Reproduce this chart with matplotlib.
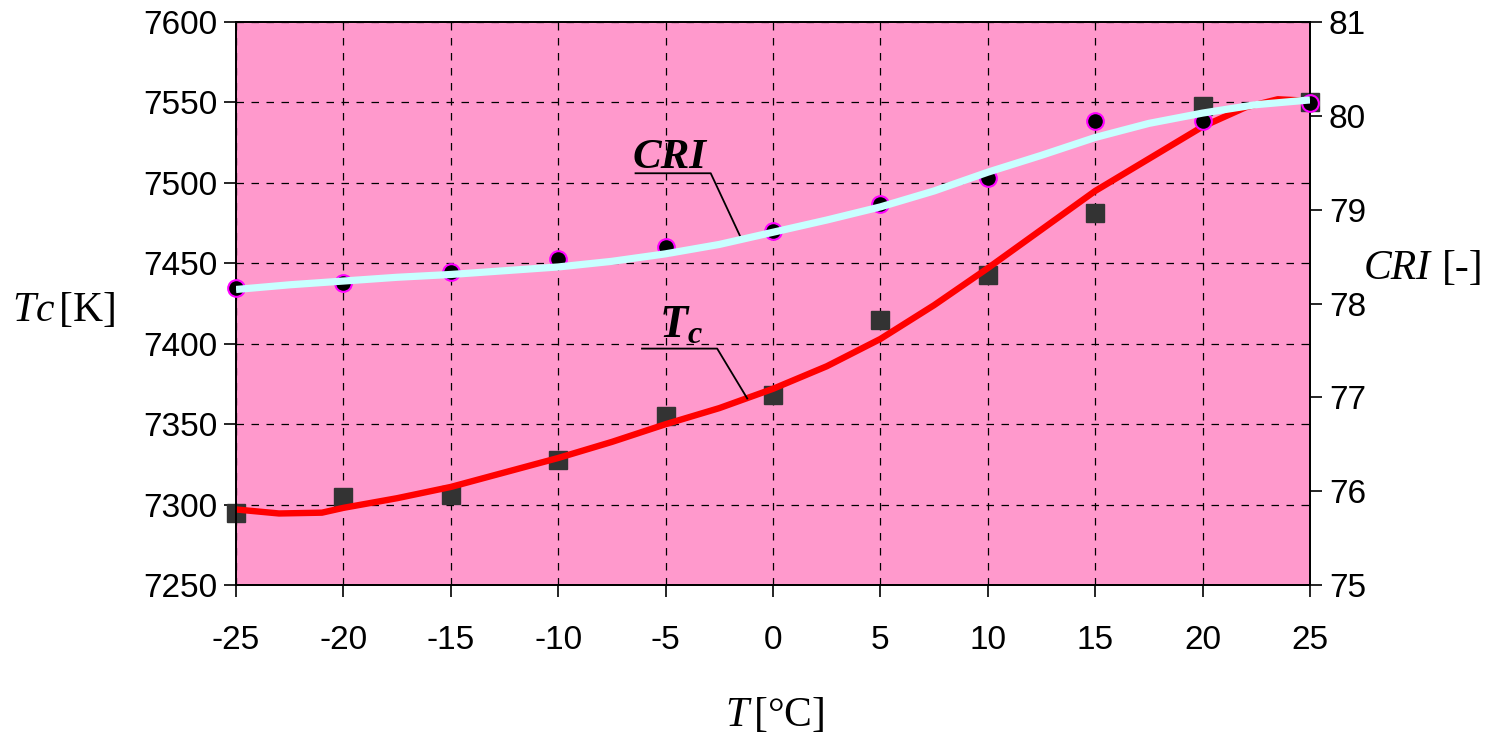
import matplotlib
matplotlib.use("Agg")
import matplotlib.pyplot as plt

# measured points
temp = [-25, -20, -15, -10, -5, 0, 5, 10, 15, 20, 25]
tc_meas = [7295, 7305, 7306, 7328, 7355, 7368, 7415, 7443, 7481, 7548, 7550]
cri_meas = [78.17, 78.22, 78.34, 78.48, 78.60, 78.77, 79.06, 79.34, 79.95, 79.95, 80.14]

# fitted curves
tc_fit_t = [-25, -23, -21, -20, -17.5, -15, -12.5, -10, -7.5, -5, -2.5, 0,
            2.5, 5, 7.5, 10, 12.5, 15, 17.5, 20, 22, 23.5, 25]
tc_fit = [7297, 7294.5, 7295, 7298, 7304, 7311, 7320, 7329, 7339, 7350, 7360, 7372,
          7386, 7403, 7424, 7447, 7471, 7495, 7515, 7535, 7547, 7552, 7551]
cri_fit_t = [-25, -22.5, -20, -17.5, -15, -12.5, -10, -7.5, -5, -2.5, 0,
             2.5, 5, 7.5, 10, 12.5, 15, 17.5, 20, 22.5, 25]
cri_fit = [78.15, 78.20, 78.24, 78.28, 78.31, 78.35, 78.39, 78.45, 78.53, 78.63, 78.76,
           78.89, 79.03, 79.20, 79.40, 79.58, 79.77, 79.92, 80.03, 80.12, 80.17]

x_ticks = [-25, -20, -15, -10, -5, 0, 5, 10, 15, 20, 25]
tc_ticks = [7250, 7300, 7350, 7400, 7450, 7500, 7550, 7600]
cri_ticks = [75, 76, 77, 78, 79, 80, 81]

plt.rcParams['font.family'] = 'Liberation Sans'
plt.rcParams['axes.unicode_minus'] = False
plt.rcParams['mathtext.fontset'] = 'custom'
plt.rcParams['mathtext.rm'] = 'Liberation Serif'
plt.rcParams['mathtext.it'] = 'Liberation Serif:italic'
plt.rcParams['mathtext.bf'] = 'Liberation Serif:bold:italic'

fig = plt.figure(figsize=(14.9, 7.35), dpi=100)
ax = fig.add_axes([0.1584, 0.204, 0.7208, 0.766])
ax2 = ax.twinx()

ax.set_facecolor('#ff99cc')
ax.plot(temp, tc_meas, 's', color='#333333', markersize=13, zorder=3, clip_on=False)
ax.plot(tc_fit_t, tc_fit, '-', color='#ff0000', lw=4.6, zorder=4,
        solid_capstyle='butt')

ax2.plot(temp, cri_meas, 'o', color='black', markeredgecolor='#ff00ff',
         markeredgewidth=1.5, markersize=12, zorder=3, clip_on=False)
ax2.plot(cri_fit_t, cri_fit, '-', color='#c8ffff', lw=5.2, zorder=4,
         solid_capstyle='butt')

ax.set_xlim(-25, 25)
ax.set_ylim(7250, 7600)
ax2.set_ylim(75, 81)
ax.set_xticks(x_ticks)
ax.set_yticks(tc_ticks)
ax2.set_yticks(cri_ticks)
ax.set_xticklabels([str(v) for v in x_ticks])
ax.set_yticklabels([str(v) for v in tc_ticks])
ax2.set_yticklabels([str(v) for v in cri_ticks])

ax.grid(True, color='black', linestyle=(0, (6, 6)), linewidth=0.9)
ax.tick_params(axis='both', direction='out', length=8.5, width=1.2,
               labelsize=24, colors='black')
ax.tick_params(axis='x', pad=20)
ax.tick_params(axis='y', pad=5)
ax2.tick_params(axis='y', direction='out', length=8.5, width=1.2,
                labelsize=24, pad=5)
for a in (ax, ax2):
    for s in a.spines.values():
        s.set_linewidth(1.3)

# callouts
ax.plot([-6.4, -2.9, -1.5], [7506, 7506, 7466], color='black', lw=1.3, zorder=5)
ax.text(-4.8, 7509, 'CRI', fontfamily='Liberation Serif', fontweight='bold',
        fontstyle='italic', fontsize=31, ha='center', va='baseline', zorder=5)
ax.plot([-6.1, -2.6, -1.2], [7397, 7397, 7366], color='black', lw=1.3, zorder=5)
ax.text(-4.3, 7404, r'$\mathbf{T}_{\mathbf{c}}$', fontsize=33,
        ha='center', va='baseline', zorder=5)

# axis labels
fig.text(0.043, 0.578, r'$\mathit{Tc}\,\mathrm{[K]}$', fontsize=30,
         ha='center', va='center')
fig.text(0.520, 0.027, r'$\mathit{T}\,\mathrm{[°C]}$', fontsize=30,
         ha='center', va='center')
fig.text(0.960, 0.635, 'CRI', fontfamily='Liberation Serif', fontstyle='italic',
         fontsize=30, ha='right', va='center')
fig.text(0.968, 0.635, '[-]', fontfamily='Liberation Serif',
         fontsize=30, ha='left', va='center')

fig.savefig('out.png', dpi=100)
